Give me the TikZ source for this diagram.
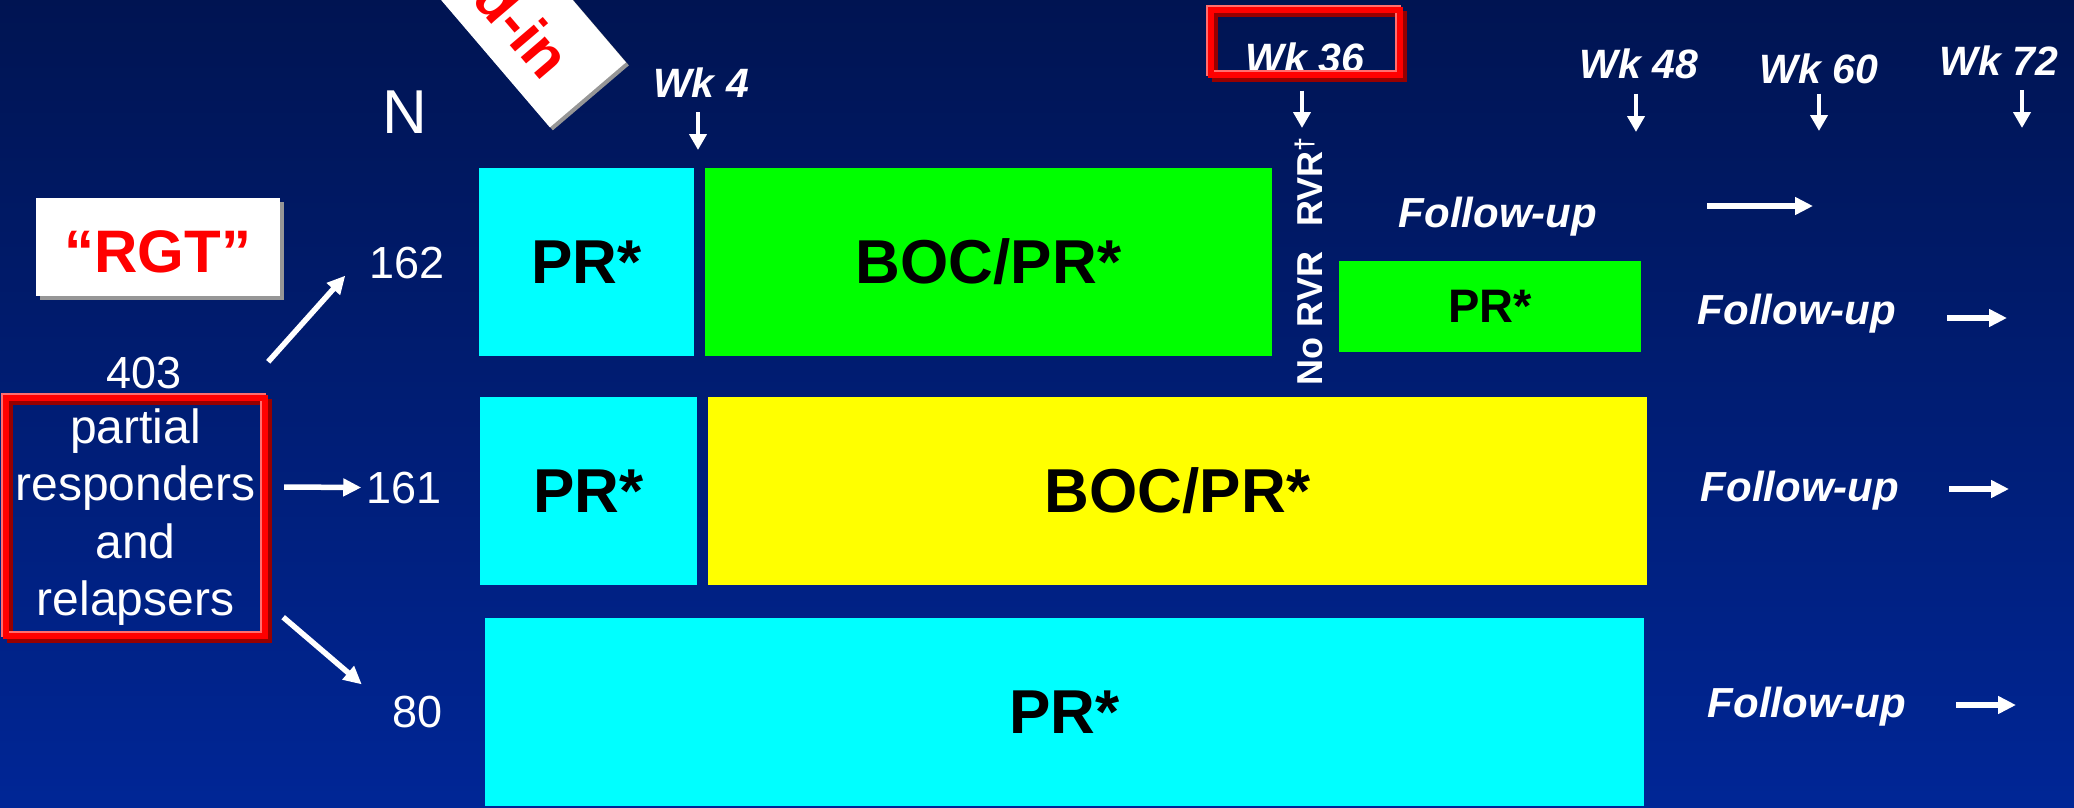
\documentclass[tikz,border=0pt]{standalone}
\usepackage{fontspec}
\setmainfont{Liberation Sans}
\usetikzlibrary{arrows.meta}

\definecolor{bgtop}{RGB}{0,20,82}
\definecolor{bgbot}{RGB}{0,38,150}
\definecolor{cyanbox}{RGB}{0,255,255}
\definecolor{greenbox}{RGB}{0,255,0}
\definecolor{yellowbox}{RGB}{255,255,0}
\definecolor{framered}{RGB}{255,0,0}
\definecolor{framelight}{RGB}{255,110,110}
\definecolor{framedark}{RGB}{150,0,0}
\definecolor{shadowgray}{RGB}{150,150,150}

% three-layer bevelled red frame drawn round a named node
\newcommand\redframe[1]{%
  \draw[framedark,line width=6pt]
    ([shift={(4pt,-4pt)}]#1.north west) rectangle ([shift={(4pt,-4pt)}]#1.south east);
  \draw[framelight,line width=6pt]
    ([shift={(-2pt,2pt)}]#1.north west) rectangle ([shift={(-2pt,2pt)}]#1.south east);
  \draw[framered,line width=6pt] (#1.north west) rectangle (#1.south east);}

\tikzset{
  armbox/.style={rectangle, inner sep=0pt, text=black,
    font=\fontsize{62}{70}\selectfont\bfseries},
  wklabel/.style={inner sep=0pt, anchor=base, text=white,
    font=\fontsize{41}{48}\selectfont\bfseries\itshape},
  fulabel/.style={inner sep=0pt, anchor=base, text=white,
    font=\fontsize{42}{50}\selectfont\bfseries\itshape},
  count/.style={inner sep=0pt, anchor=base, text=white,
    font=\fontsize{45}{54}\selectfont},
  rvrlabel/.style={inner sep=0pt, anchor=base, rotate=90, text=white,
    font=\fontsize{36}{42}\selectfont\bfseries},
  leadtab/.style={rectangle, rotate=-49.5, anchor=east, inner sep=0pt,
    minimum width=340pt, minimum height=100pt},
  warr/.style={white, line width=4.5pt, -{Triangle[width=17pt,length=16pt]}},
  farr/.style={white, line width=5.5pt, -{Triangle[width=17pt,length=18pt]}},
}

\begin{document}
\begin{tikzpicture}[x=1pt,y=1pt]
\useasboundingbox (0,0) rectangle (2074,-808);
\clip (0,0) rectangle (2074,-808);
\shade[top color=bgtop,bottom color=bgbot] (0,0) rectangle (2074,-808);

% tilted lead-in tab
\node[leadtab, fill=shadowgray] (leadshadow) at (591,-98) {};
\node[leadtab, fill=white] (leadbox) at (588,-95) {};
\node[rotate=-49.5, anchor=base east, inner sep=0pt, text=framered,
  font=\fontsize{60}{68}\selectfont\bfseries] (leadtext) at (542,-83) {Lead-in};

% "RGT" tag
\node[rectangle, fill=shadowgray, minimum width=244pt, minimum height=98pt,
  inner sep=0pt] (rgtshadow) at (162,-251) {};
\node[rectangle, fill=white, minimum width=244pt, minimum height=98pt,
  inner sep=0pt, text height=52pt, text=framered,
  font=\fontsize{60}{70}\selectfont\bfseries] (rgt) at (158,-247) {“RGT”};

% population box
\node[rectangle, minimum width=259pt, minimum height=238pt, inner sep=0pt,
  align=center, text=white, font=\fontsize{48}{57.5}\selectfont]
  (grp) at (135.5,-517) {partial\\responders\\and\\relapsers};
\redframe{grp}

% counts
\node[count, font=\fontsize{62}{70}\selectfont] (nlabel) at (405,-133) {N};
\node[count] (n403) at (144,-388) {403};
\node[count] (n162) at (407,-278) {162};
\node[count] (n161) at (404,-503) {161};
\node[count] (n80) at (418,-727) {80};

\draw[farr] ([shift={(3pt,36pt)}]grp.north east) -- ([shift={(-24pt,3pt)}]n162.south west);
\draw[farr] ([shift={(19pt,30pt)}]grp.east) -- ([shift={(-5pt,0pt)}]n161.west);
\draw[farr] ([shift={(18pt,19pt)}]grp.south east) -- ([shift={(-31pt,11pt)}]n80.north west);

% treatment arms
\node[armbox, fill=cyanbox, minimum width=215pt, minimum height=188pt] (pr1) at (586.5,-262) {PR*};
\node[armbox, fill=greenbox, minimum width=567pt, minimum height=188pt] (boc1) at (988.5,-262) {BOC/PR*};
\node[armbox, fill=greenbox, minimum width=302pt, minimum height=91pt,
  font=\fontsize{47}{54}\selectfont\bfseries] (pr1b) at (1490,-306.5) {PR*};
\node[armbox, fill=cyanbox, minimum width=217pt, minimum height=188pt] (pr2) at (588.5,-491) {PR*};
\node[armbox, fill=yellowbox, minimum width=939pt, minimum height=188pt] (boc2) at (1177.5,-491) {BOC/PR*};
\node[armbox, fill=cyanbox, minimum width=1159pt, minimum height=188pt] (pr3) at (1064.5,-712) {PR*};

% response split at week 36
\node[rvrlabel] (rvr) at (1322,-181.5) {RVR\textsuperscript{\textdagger}};
\node[rvrlabel] (norvr) at (1322,-318.5) {No RVR};

% timeline
\node[wklabel] (wk4) at (701,-97) {Wk 4};
\node[wklabel] (wk36) at (1305,-73) {Wk 36};
\node[wklabel] (wk48) at (1639,-78) {Wk 48};
\node[wklabel] (wk60) at (1819,-83) {Wk 60};
\node[wklabel] (wk72) at (1999,-75) {Wk 72};

\node[rectangle, minimum width=189pt, minimum height=65pt, inner sep=0pt]
  (wk36frame) at (1305.5,-42.5) {};
\redframe{wk36frame}

\coordinate (t4) at (698,-150);
\coordinate (t36) at (1302,-128);
\coordinate (t48) at (1636,-132);
\coordinate (t60) at (1819,-131);
\coordinate (t72) at (2022,-128);
\draw[warr] ([shift={(-3pt,-15pt)}]wk4.south) -- (t4);
\draw[warr] ([shift={(-3pt,-17pt)}]wk36.south) -- (t36);
\draw[warr] ([shift={(-3pt,-15pt)}]wk48.south) -- (t48);
\draw[warr] ([shift={(0pt,-10pt)}]wk60.south) -- (t60);
\draw[warr] ([shift={(23pt,-15pt)}]wk72.south) -- (t72);

% follow-up phases
\node[fulabel] (fu0) at (1498,-227) {Follow-up};
\node[fulabel] (fu1) at (1797,-324) {Follow-up};
\node[fulabel] (fu2) at (1800,-501) {Follow-up};
\node[fulabel] (fu3) at (1807,-717) {Follow-up};

\coordinate (f0s) at (1707,-206); \coordinate (f0e) at (1813,-206);
\coordinate (f1s) at (1947,-318); \coordinate (f1e) at (2007,-318);
\coordinate (f2s) at (1949,-489); \coordinate (f2e) at (2009,-489);
\coordinate (f3s) at (1956,-705); \coordinate (f3e) at (2016,-705);
\draw[farr] (f0s) -- (f0e);
\draw[farr] (f1s) -- (f1e);
\draw[farr] (f2s) -- (f2e);
\draw[farr] (f3s) -- (f3e);
\end{tikzpicture}
\end{document}
